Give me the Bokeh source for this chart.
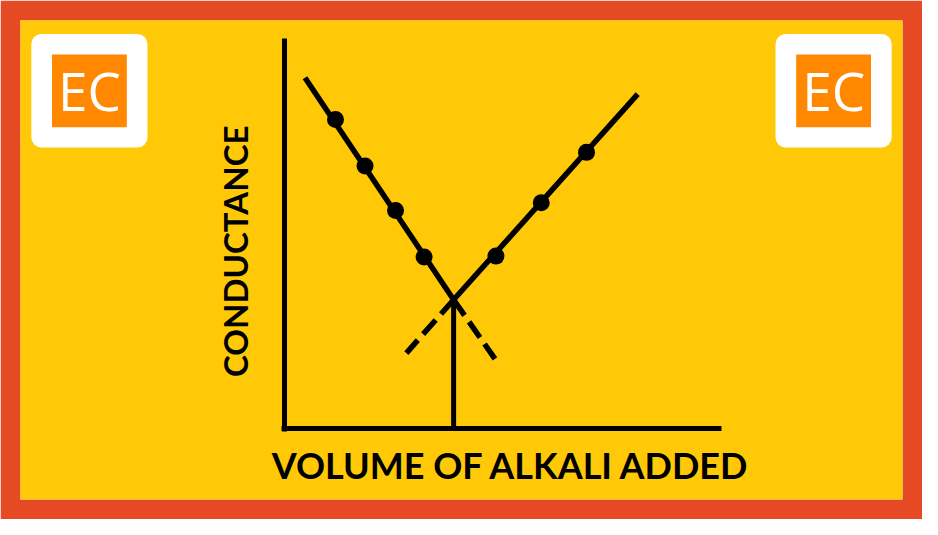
from bokeh.plotting import figure
from bokeh.models import Range1d, Label, FixedTicker
from bokeh.embed import file_html
from bokeh.resources import INLINE
from bokeh.core.properties import value

# ---- data (volume of alkali added vs conductance, arbitrary units) ----
acid_volume = [5.2, 8.2, 11.3, 14.2]
acid_conductance = [31.9, 27.1, 22.5, 17.7]
base_volume = [21.5, 26.1, 30.7]
base_conductance = [17.8, 23.3, 28.5]

acid_line_volume = [2.1, 17.2]
acid_line_conductance = [36.2, 13.3]
acid_ext_volume = [17.2, 21.4]
acid_ext_conductance = [13.3, 7.2]

base_line_volume = [17.2, 35.9]
base_line_conductance = [13.3, 34.5]
base_ext_volume = [17.2, 12.4]
base_ext_conductance = [13.3, 7.8]

end_point_volume = [17.2, 17.2]
end_point_conductance = [0.0, 13.3]

x_title = "VOLUME OF ALKALI ADDED"
y_title = "CONDUCTANCE"
logo_text = ["EC", "EC"]

# ---- styles ----
RED = "#E64A25"
YELLOW = "#FFC908"
ORANGE = "#FF8800"
INK = "black"

p = figure(width=922, height=519, output_backend="svg", toolbar_location=None,
           x_range=Range1d(-26.8, 62.8), y_range=Range1d(-7.3, 42.1),
           min_border=20, border_fill_color=RED, background_fill_color=YELLOW,
           outline_line_color=None)
p.grid.visible = False

for ax, bnds in ((p.xaxis, (-0.25, 44.4)), (p.yaxis, (-0.25, 40.2))):
    ax.fixed_location = 0
    ax.bounds = bnds
    ax.ticker = FixedTicker(ticks=[])
    ax.axis_line_width = 5
    ax.axis_line_color = INK
    ax.major_tick_line_color = None
    ax.minor_tick_line_color = None
    ax.major_label_text_font_size = "0px"

# logos
logo_x = [-19.8, 55.8]
logo_y = [34.85, 34.85]
p.rect(x=logo_x, y=logo_y, width=11.8, height=11.7, fill_color="white",
       line_color=None, border_radius=10)
p.rect(x=logo_x, y=logo_y, width=7.6, height=7.5, fill_color=ORANGE, line_color=None)
p.text(x=logo_x, y=[34.85, 34.85], text=logo_text, text_font=value("Open Sans"),
       text_font_size="53px", text_color="white", text_align="center",
       text_baseline="alphabetic")

# lines
p.line(acid_line_volume, acid_line_conductance, line_width=5.5, line_color=INK)
p.line(base_line_volume, base_line_conductance, line_width=5.5, line_color=INK)
p.line(acid_ext_volume, acid_ext_conductance, line_width=5.5, line_color=INK, line_dash="19 8")
p.line(base_ext_volume, base_ext_conductance, line_width=5.5, line_color=INK, line_dash="19 8")
p.line(end_point_volume, end_point_conductance, line_width=5, line_color=INK)

# points
p.scatter(acid_volume, acid_conductance, size=17, fill_color=INK, line_color=None)
p.scatter(base_volume, base_conductance, size=17, fill_color=INK, line_color=None)

# titles
p.add_layout(Label(x=23.05, y=-3.75, text=x_title, text_font="Lato",
                   text_font_style="bold", text_font_size="36px",
                   text_align="center", text_baseline="alphabetic", text_color=INK))
p.add_layout(Label(x=-5.0, y=18.3, text=y_title, text_font="Lato", angle=1.5707963,
                   text_font_style="bold", text_font_size="33px",
                   text_align="center", text_baseline="alphabetic", text_color=INK))

open("out.html", "w").write(file_html(p, INLINE))
